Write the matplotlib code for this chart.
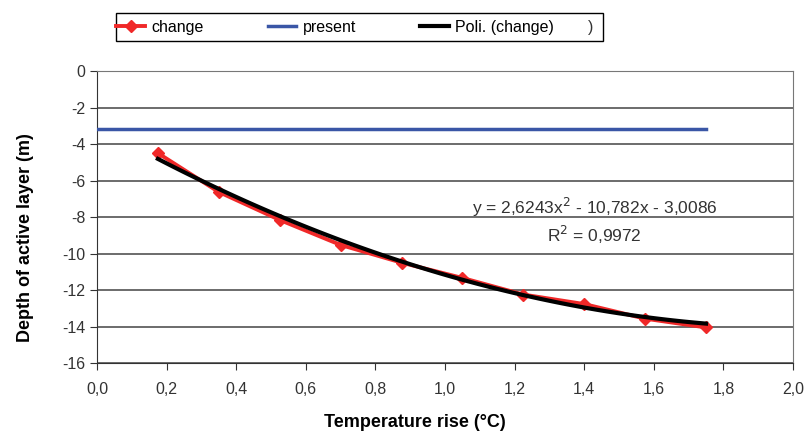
import matplotlib.pyplot as plt
import numpy as np
from matplotlib.ticker import FuncFormatter, MultipleLocator
from matplotlib.patches import Rectangle

plt.rcParams['font.family'] = ['Liberation Sans', 'DejaVu Sans']

# data
temp_rise = [0.175, 0.35, 0.525, 0.70, 0.875, 1.05, 1.225, 1.40, 1.575, 1.75]
change = [-4.5, -6.63, -8.16, -9.53, -10.5, -11.34, -12.25, -12.77, -13.57, -14.05]
present_x = [0.0, 1.75]
present = [-3.2, -3.2]
poly_coef = [2.6243, -10.782, -3.0086]

fig = plt.figure(figsize=(8.07, 4.37), dpi=100)
ax = fig.add_axes([0.1202, 0.1693, 0.8625, 0.6682])

# trendline from the printed coefficients
xt = np.linspace(temp_rise[0], temp_rise[-1], 100)
yt = np.polyval(poly_coef, xt)

l1, = ax.plot(temp_rise, change, color='#f02828', lw=2.8, marker='D', ms=6,
              mec='#f02828', zorder=3)
l2, = ax.plot(present_x, present, color='#3a56a6', lw=2.5, zorder=3)
l3, = ax.plot(xt, yt, color='black', lw=3, zorder=4)

ax.set_xlim(0, 2.0)
ax.set_ylim(-16, 0)
ax.xaxis.set_major_locator(MultipleLocator(0.2))
ax.yaxis.set_major_locator(MultipleLocator(2))
ax.xaxis.set_major_formatter(FuncFormatter(lambda v, p: f'{v:.1f}'.replace('.', ',')))
ax.yaxis.set_major_formatter(FuncFormatter(lambda v, p: f'{v:.0f}'))
ax.grid(True, axis='y', color='#444444', lw=1.1)
ax.set_axisbelow(True)
for s in ax.spines.values():
    s.set_color('#777777')
ax.spines['left'].set_color('#333333')
ax.spines['bottom'].set_color('#333333')
ax.tick_params(direction='out', length=5, color='#333333', labelsize=11.5,
               labelcolor='#333333')
ax.tick_params(axis='x', pad=9)

ax.set_xlabel('Temperature rise (°C)', fontsize=13, fontweight='bold')
ax.set_ylabel('Depth of active layer (m)', fontsize=13, fontweight='bold')
ax.xaxis.set_label_coords(0.457, -0.175)
ax.yaxis.set_label_coords(-0.09, 0.43)

ax.text(1.43, -7.5, 'y = 2,6243x$^2$ - 10,782x - 3,0086', ha='center', va='center',
        fontsize=12.5, color='#333333')
ax.text(1.43, -9.0, 'R$^2$ = 0,9972', ha='center', va='center',
        fontsize=12.5, color='#333333')

fig.patches.append(Rectangle((116 / 807, 1 - 41 / 437), 487 / 807, 28 / 437,
                             transform=fig.transFigure, fill=False,
                             edgecolor='black', lw=1.0))
leg = fig.legend([l1, l2, l3], ['change', 'present', 'Poli. (change)'], ncol=3,
                 loc='center left', bbox_to_anchor=(0.144, 0.937), frameon=False,
                 fontsize=11.5, handlelength=1.8, handletextpad=0.4,
                 columnspacing=4.0, borderaxespad=0, borderpad=0)
fig.text(588 / 807, 0.937, ')', fontsize=11.5, va='center', color='#333333')

plt.savefig('out.png', dpi=100)
